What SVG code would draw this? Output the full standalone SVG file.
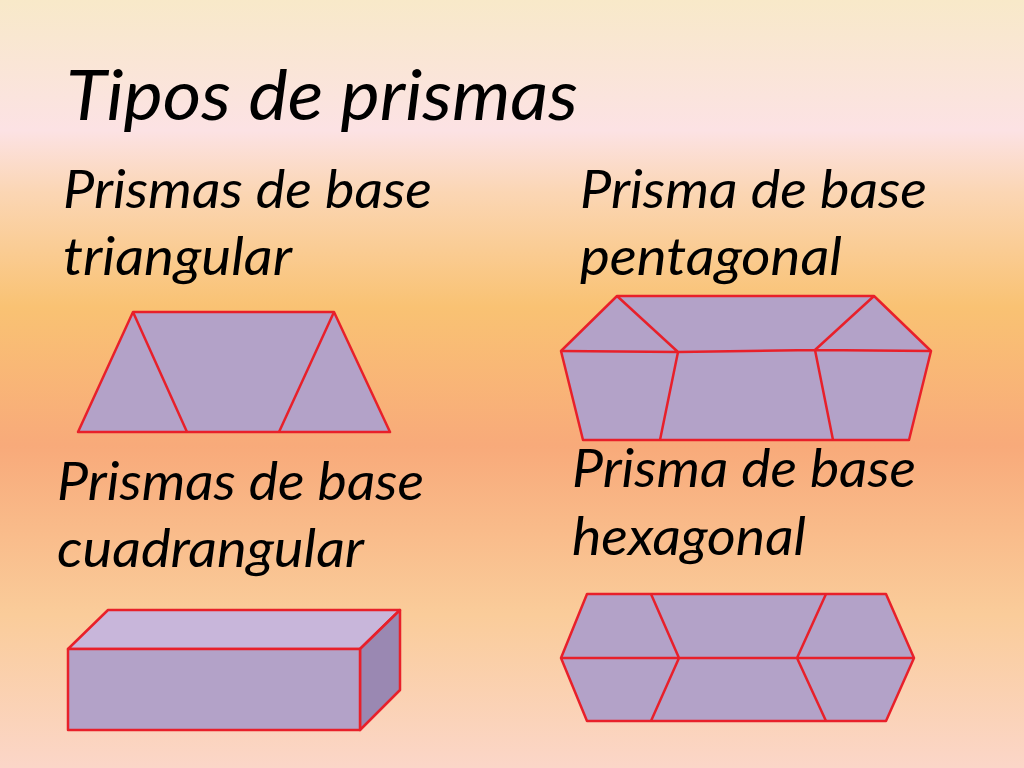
<svg xmlns="http://www.w3.org/2000/svg" width="1024" height="768" viewBox="0 0 1024 768">
<defs>
<linearGradient id="bg" x1="0" y1="0" x2="0" y2="1">
<stop offset="0" stop-color="#f8e9c9"/>
<stop offset="0.17" stop-color="#fce2e4"/>
<stop offset="0.25" stop-color="#fbd6b4"/>
<stop offset="0.4" stop-color="#f9c273"/>
<stop offset="0.58" stop-color="#f8aa7a"/>
<stop offset="0.8" stop-color="#facc9a"/>
<stop offset="1" stop-color="#fbd6c8"/>
</linearGradient>
</defs>
<style>
.t{font-family:Lato,"Open Sans",sans-serif;font-style:italic;fill:#000;font-size:52px}
.f{fill:#b3a2c8;stroke:#e8202a;stroke-width:2.5;stroke-linejoin:round}
.l{fill:none;stroke:#e8202a;stroke-width:2.5}
</style>
<rect width="1024" height="768" fill="url(#bg)"/>
<text class="t" x="66" y="120" style="font-size:70px" textLength="512" lengthAdjust="spacingAndGlyphs">Tipos de prismas</text>
<g id="tri-label"><text class="t" x="63" y="208" textLength="369" lengthAdjust="spacingAndGlyphs">Prismas de base</text><text class="t" x="63" y="275" textLength="229" lengthAdjust="spacingAndGlyphs">triangular</text></g>
<g id="pent-label"><text class="t" x="580" y="208" textLength="347" lengthAdjust="spacingAndGlyphs">Prisma de base</text><text class="t" x="580" y="275" textLength="262" lengthAdjust="spacingAndGlyphs">pentagonal</text></g>
<g id="cuad-label"><text class="t" x="57" y="500" textLength="367" lengthAdjust="spacingAndGlyphs">Prismas de base</text><text class="t" x="57" y="567" textLength="307" lengthAdjust="spacingAndGlyphs">cuadrangular</text></g>
<g id="hex-label"><text class="t" x="572" y="487" textLength="344" lengthAdjust="spacingAndGlyphs">Prisma de base</text><text class="t" x="572" y="555" textLength="234" lengthAdjust="spacingAndGlyphs">hexagonal</text></g>
<g id="tri">
<polygon class="f" points="78,432 133,312 334,312 390,432"/>
<path class="l" d="M133,312 L187,432 M334,312 L279,432"/>
</g>
<g id="pent">
<polygon class="f" points="617,296 874,296 931,351 909,440 583,440 561,351"/>
<path class="l" d="M561,351 L678,352 L815,350 L931,351 M617,296 L678,352 M874,296 L815,350 M678,352 L660,440 M815,350 L833,440"/>
</g>
<g id="cuad">
<polygon points="68,649 108,610 400,610 360,649" fill="#c8b6da" stroke="#e8202a" stroke-width="2.5" stroke-linejoin="round"/>
<polygon points="360,649 400,610 400,690 360,730" fill="#9a88b2" stroke="#e8202a" stroke-width="2.5" stroke-linejoin="round"/>
<rect class="f" x="68" y="649" width="292" height="81"/>
</g>
<g id="hex">
<polygon class="f" points="587,594 886,594 914,658 886,721 587,721 561,658"/>
<path class="l" d="M561,658 L914,658 M651,594 L679,658 L651,721 M826,594 L797,658 L826,721"/>
</g>
</svg>
